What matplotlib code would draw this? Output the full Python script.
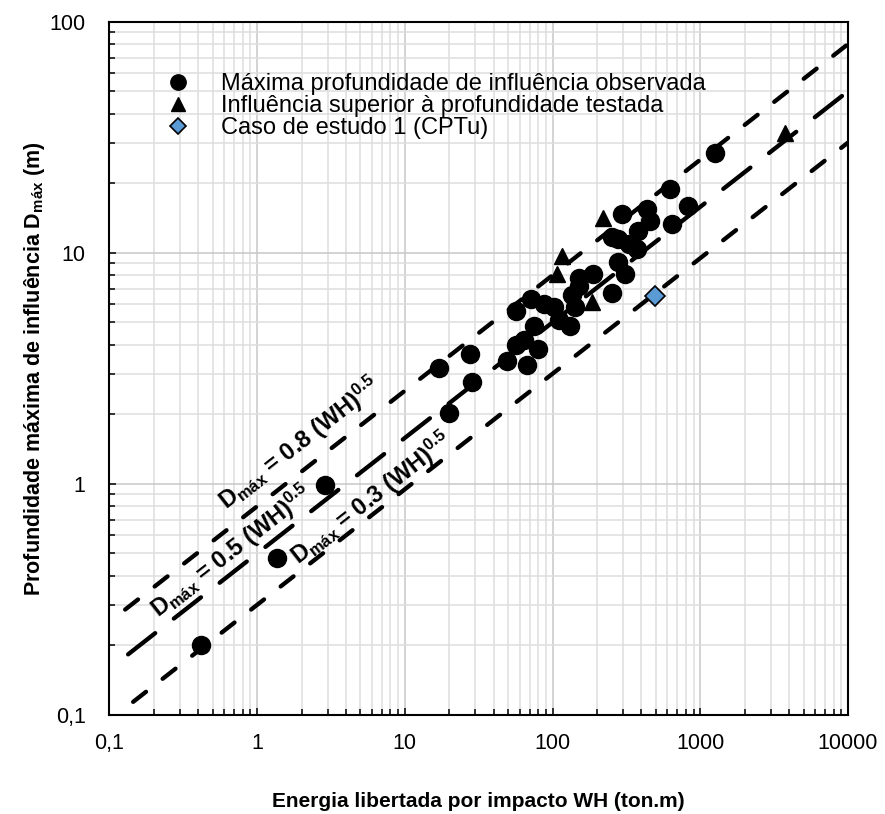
import matplotlib
matplotlib.use('Agg')
import matplotlib.pyplot as plt
import numpy as np
from matplotlib.ticker import LogLocator, NullFormatter, FuncFormatter

plt.rcParams['font.family'] = ['Liberation Sans', 'DejaVu Sans']
plt.rcParams['mathtext.default'] = 'regular'

# observed max depth of influence (WH in ton.m, D in m)
obs_wh = [0.42, 1.36, 2.9, 20, 17, 27.8, 28.5, 49, 67, 57, 64, 80, 74.5, 132, 110,
          57, 72, 87, 102, 142, 135, 252, 150, 150, 189, 310, 279, 371, 327, 279,
          252, 381, 640, 457, 294, 434, 830, 624, 1250]
obs_d = [0.20, 0.48, 0.99, 2.02, 3.18, 3.66, 2.76, 3.42, 3.26, 4.0, 4.2, 3.85, 4.8, 4.8, 5.1,
         5.6, 6.3, 6.0, 5.8, 5.8, 6.6, 6.7, 7.2, 7.8, 8.1, 8.1, 9.1, 10.4, 10.9, 11.5,
         11.7, 12.4, 13.3, 13.7, 14.7, 15.4, 15.9, 18.8, 27.0]

# influence deeper than tested depth
sup_wh = [221, 116, 107, 184, 3730]
sup_d = [14.1, 9.7, 8.1, 6.1, 33]

# case study 1 (CPTu)
cpt_wh = [494]
cpt_d = [6.5]

# reference lines D = n (WH)^0.5, endpoints
l08_x = [0.128, 10000]
l08_y = [0.286, 80]
l05_x = [0.134, 10000]
l05_y = [0.183, 50]
l03_x = [0.145, 10000]
l03_y = [0.114, 30]

lbl08 = 'D$_{máx}$ = 0.8 (WH)$^{0.5}$'
lbl05 = 'D$_{máx}$ = 0.5 (WH)$^{0.5}$'
lbl03 = 'D$_{máx}$ = 0.3 (WH)$^{0.5}$'

fig = plt.figure(figsize=(8.85, 8.14), dpi=100)
ax = fig.add_axes([0.1235, 0.1216, 0.8347, 0.8517])
ax.set_xscale('log')
ax.set_yscale('log')
ax.set_xlim(0.1, 10000)
ax.set_ylim(0.1, 100)

ax.grid(which='major', color='#c8c8c8', lw=1.1)
ax.grid(which='minor', color='#dedede', lw=1.1)
ax.set_axisbelow(True)

ax.plot(l08_x, l08_y, color='black', lw=3.1, dashes=(3.8, 4.9), dash_capstyle='round', zorder=2)
ax.plot(l05_x, l05_y, color='black', lw=3.1, dashes=(8, 5.5), dash_capstyle='round', zorder=2)
ax.plot(l03_x, l03_y, color='black', lw=3.1, dashes=(3.8, 4.9), dash_capstyle='round', zorder=2)

ax.plot(obs_wh, obs_d, ls='', marker='o', ms=13, color='black',
        label='Máxima profundidade de influência observada', zorder=3)
ax.plot(sup_wh, sup_d, ls='', marker='^', ms=11.5, color='black',
        label='Influência superior à profundidade testada', zorder=3)
ax.plot(cpt_wh, cpt_d, ls='', marker='D', ms=10, color='#5b9bd5', mec='black', mew=1.2,
        label='Caso de estudo 1 (CPTu)', zorder=4)

# labels along the lines
def angle_of(xs, ys):
    p = ax.transData.transform(list(zip(xs, ys)))
    return np.degrees(np.arctan2(p[1, 1] - p[0, 1], p[1, 0] - p[0, 0]))

for (tx, ty), txt, xs, ys in [((0.624, 0.771), lbl08, l08_x, l08_y),
                              ((0.215, 0.262), lbl05, l05_x, l05_y),
                              ((1.90, 0.446), lbl03, l03_x, l03_y)]:
    ax.text(tx, ty, txt, rotation=angle_of(xs, ys), rotation_mode='anchor',
            ha='left', va='baseline', fontsize=17, fontweight='bold', zorder=5)

fmt = FuncFormatter(lambda v, p: ('%g' % v).replace('.', ','))
for axis in (ax.xaxis, ax.yaxis):
    axis.set_major_locator(LogLocator(base=10, numticks=20))
    axis.set_minor_locator(LogLocator(base=10, subs=np.arange(2, 10), numticks=100))
    axis.set_major_formatter(fmt)
    axis.set_minor_formatter(NullFormatter())

ax.tick_params(which='both', direction='in', color='black', width=1.1, labelsize=15.5)
ax.tick_params(which='major', length=5)
ax.tick_params(which='minor', length=4)
ax.tick_params(axis='x', which='major', pad=13)
ax.tick_params(axis='y', which='major', pad=17)
for s in ax.spines.values():
    s.set_linewidth(1.5)

ax.set_xlabel('Energia libertada por impacto WH (ton.m)', fontsize=15, fontweight='bold', labelpad=27)
ax.set_ylabel('Profundidade máxima de influência D$_{máx}$ (m)', fontsize=15.5, fontweight='bold', labelpad=2)

ax.legend(loc='upper left', bbox_to_anchor=(0.074, 0.926), frameon=False, fontsize=17,
          handlelength=1.2, handletextpad=1.2, labelspacing=0.0, borderpad=0,
          borderaxespad=0, markerscale=0.85)

fig.savefig('out.png', dpi=100)
